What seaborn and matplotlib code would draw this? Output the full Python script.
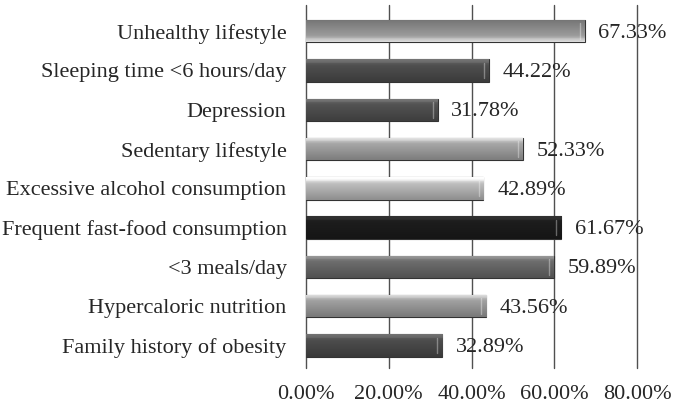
import numpy as np
import pandas as pd
import seaborn as sns
import matplotlib.pyplot as plt
from matplotlib.colors import to_rgb

sns.set_style('white')
plt.rcParams['font.family'] = ['Liberation Serif', 'DejaVu Serif']

factors = ["Unhealthy lifestyle", "Sleeping time <6 hours/day", "Depression",
           "Sedentary lifestyle", "Excessive alcohol consumption",
           "Frequent fast-food consumption", "<3 meals/day",
           "Hypercaloric nutrition", "Family history of obesity"]
percent = [67.33, 44.22, 31.78, 52.33, 42.89, 61.67, 59.89, 43.56, 32.89]
bar_colors = ["#9a9a9a", "#4e4e4e", "#525252", "#a6a6a6", "#bdbdbd",
              "#1c1c1c", "#6c6c6c", "#a0a0a0", "#4c4c4c"]

df = pd.DataFrame({"factor": factors, "percent": percent})

fig = plt.figure(figsize=(6.77, 4.07), dpi=100)
ax = fig.add_axes([0.452, 0.096, 0.489, 0.892])

sns.barplot(data=df, y="factor", x="percent", hue="factor", palette=bar_colors,
            legend=False, width=0.57, edgecolor="#333333", linewidth=0.8, ax=ax)

# bevelled look: vertical gradient clipped to each bar
ramp = np.concatenate([np.linspace(1.35, 1.0, 30), np.linspace(1.0, 0.75, 70)])
for i, (p, c) in enumerate(zip(ax.patches, bar_colors)):
    x0, y0 = p.get_x(), p.get_y()
    w, h = p.get_width(), p.get_height()
    rgb = np.clip(np.array(to_rgb(c))[None, :] * ramp[:, None] + (ramp[:, None] > 1.15) * 0.05, 0, 1)
    img = np.repeat(rgb[:, None, :], 2, axis=1)
    im = ax.imshow(img, extent=(x0, x0 + w, y0, y0 + h), aspect='auto', zorder=p.get_zorder() + 0.1,
                   origin='upper' if ax.yaxis_inverted() else 'lower')
    im.set_clip_path(p)
    ax.plot([x0 + w - 1.2, x0 + w - 1.2], [y0 + h * 0.15, y0 + h * 0.85], color="white",
            alpha=0.35, lw=1, zorder=p.get_zorder() + 0.2)
    ax.text(x0 + w + 3.3, y0 + h / 2 + 0.05, f"{percent[i]:.2f}%", va="center", ha="left",
            fontsize=16, zorder=5)

ax.set_xlim(0, 80)
ax.set_ylim(len(factors) - 0.5 + 0.07, -0.5 - 0.17)
ax.set_xticks([0, 20, 40, 60, 80])
ax.set_xticklabels(["0.00%", "20.00%", "40.00%", "60.00%", "80.00%"])
ax.grid(axis='x', color="#505050", linewidth=1.0)
for gl in ax.get_xgridlines():
    gl.set_clip_on(False)
ax.set_axisbelow(True)
for s in ax.spines.values():
    s.set_visible(False)
ax.tick_params(axis='both', length=0, labelsize=16)
ax.tick_params(axis='y', pad=14)
ax.tick_params(axis='x', pad=12)
ax.set_xlabel("")
ax.set_ylabel("")

plt.savefig("out.png", dpi=100)
